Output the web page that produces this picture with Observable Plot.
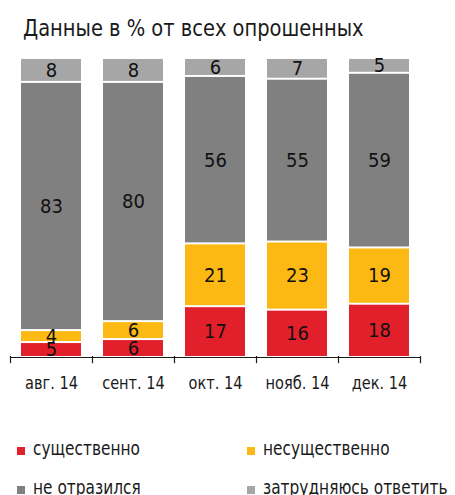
<!DOCTYPE html>
<html><head><meta charset="utf-8">
<script src="https://cdn.jsdelivr.net/npm/d3@7"></script>
<script src="https://cdn.jsdelivr.net/npm/@observablehq/plot@0.6"></script>
<style>
body{margin:0;background:#fff;font-family:"DejaVu Sans Condensed","DejaVu Sans",sans-serif;font-stretch:condensed;}
#title{position:absolute;left:23px;top:15px;font-size:23px;color:#1a1a1a;white-space:nowrap;transform:scaleX(0.94);transform-origin:0 0;}
#chart{position:absolute;left:0;top:48px;}
.leg{position:absolute;font-size:19px;color:#1a1a1a;white-space:nowrap;}
.leg span{display:inline-block;transform:scaleX(0.9);transform-origin:0 0;}
.leg i{position:absolute;left:-16px;top:10px;width:8px;height:8px;}
</style></head>
<body>
<div id="title">Данные в % от всех опрошенных</div>
<div id="chart"></div>
<div id="legend"></div>
<script>
const categories = ["авг. 14","сент. 14","окт. 14","нояб. 14","дек. 14"];
const seriesNames = ["существенно","несущественно","не отразился","затрудняюсь ответить"];
const colors = ["#e2202b","#fdb913","#808080","#a6a6a6"];
const significant = [5,6,17,16,18];
const insignificant = [4,6,21,23,19];
const notAffected = [83,80,56,55,59];
const hardToSay = [8,8,6,7,5];

const seriesValues = [significant, insignificant, notAffected, hardToSay];
const data = [];
seriesValues.forEach((vals, s) => vals.forEach((v, i) => data.push({cat: categories[i], series: seriesNames[s], value: v})));

const stackOpts = {x: "cat", y: "value", z: "series", order: seriesNames, offset: "normalize"};

const plot = Plot.plot({
  width: 455, height: 352,
  marginLeft: 10, marginRight: 35, marginTop: 9, marginBottom: 44,
  style: {fontFamily: '"DejaVu Sans Condensed","DejaVu Sans",sans-serif', background: "#fff", color: "#1a1a1a"},
  x: {domain: categories, padding: 0, label: null, axis: null},
  y: {domain: [0, 1], axis: null},
  color: {domain: seriesNames, range: colors},
  marks: [
    Plot.barY(data, Plot.stackY({...stackOpts, fill: "series", insetLeft: 11, insetRight: 11, insetTop: 2})),
    Plot.text(data, Plot.stackY({...stackOpts, text: "value", fill: "#111", fontSize: 20, dy: 1})),
    Plot.ruleY([0], {stroke: "#1a1a1a", strokeWidth: 1.2, dy: 1}),
    Plot.ruleX(categories, {x: d => d, y1: 0, y2: -0.024, dx: -41, stroke: "#1a1a1a", strokeWidth: 1.2}),
    Plot.ruleX(categories.slice(-1), {x: d => d, y1: 0, y2: -0.024, dx: 41, stroke: "#1a1a1a", strokeWidth: 1.2}),
    Plot.text(categories, {x: d => d, y: 0, text: d => d, dy: 27, fontSize: 18, fill: "#1a1a1a", className: "xlab"})
  ]
});
// condense axis label glyphs horizontally
plot.querySelectorAll("g.xlab text").forEach(t => {
  const tr = t.getAttribute("transform") || "";
  t.setAttribute("transform", tr + " scale(0.9,1)");
});
document.getElementById("chart").appendChild(plot);

const legend = document.getElementById("legend");
const pos = [[33,437],[263,437],[33,476],[263,476]];
seriesNames.forEach((name, i) => {
  const d = document.createElement("div");
  d.className = "leg";
  d.style.left = pos[i][0] + "px";
  d.style.top = pos[i][1] + "px";
  d.innerHTML = `<i style="background:${colors[i]}"></i><span>${name}</span>`;
  legend.appendChild(d);
});
</script>
</body></html>
